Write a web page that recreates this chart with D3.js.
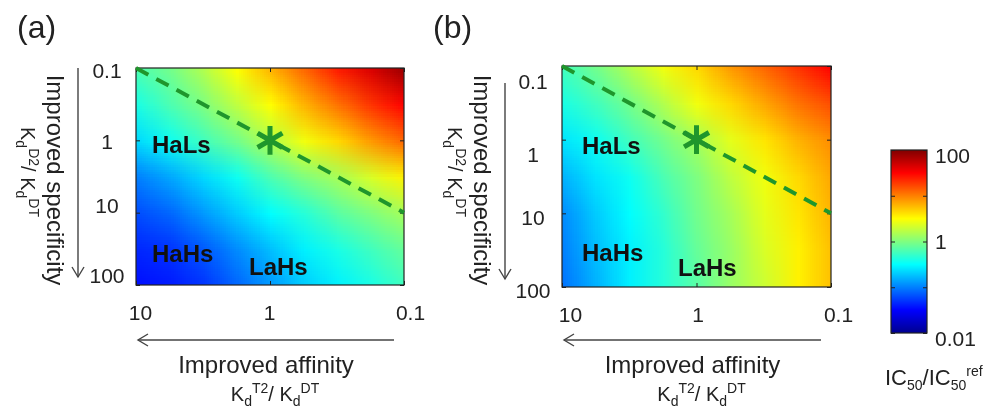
<!DOCTYPE html>
<html>
<head>
<meta charset="utf-8">
<script src="https://cdn.jsdelivr.net/npm/d3@7"></script>
<style>
body { margin: 0; background: #fff; }
#chart { position: relative; width: 1000px; height: 410px; overflow: hidden;
  font-family: "Liberation Sans", Arial, sans-serif; }
#chart svg { position: absolute; left: 0; top: 0; }
</style>
</head>
<body>
<div id="chart"></div>
<script>
// tick values of the two panel axes and of the colour bar
var xTicks = [10, 1, 0.1];
var yTicks = [0.1, 1, 10, 100];
var cbTicks = [100, 10, 1, 0.1, 0.01];
var cbLabels = [100, 1, 0.01];

// sample grid (log10 of Kd ratios) for the heat maps
var gridLogX = [1, 0.75, 0.5, 0.25, 0, -0.25, -0.5, -0.75, -1];
var gridLogY = [-1, -0.5, 0, 0.5, 1, 1.5, 2];

// log10(IC50/IC50ref), rows top (0.1) to bottom (100)
var logIC50a = [
  [-0.20, -0.05,  0.20,  0.50,  0.80,  1.10,  1.40,  1.65,  1.90],
  [-0.40, -0.20,  0.00,  0.25,  0.50,  0.80,  1.05,  1.30,  1.50],
  [-0.65, -0.45, -0.25, -0.05,  0.20,  0.45,  0.65,  0.90,  1.10],
  [-1.00, -0.85, -0.65, -0.45, -0.20,  0.00,  0.15,  0.35,  0.55],
  [-1.20, -1.10, -0.90, -0.70, -0.50, -0.35, -0.15,  0.00,  0.15],
  [-1.35, -1.30, -1.15, -0.95, -0.75, -0.55, -0.40, -0.25, -0.10],
  [-1.45, -1.40, -1.30, -1.10, -0.90, -0.70, -0.55, -0.40, -0.25]
];
// same for panel (b)
var logIC50b = [
  [-0.25, -0.05,  0.20,  0.45,  0.65,  0.90,  1.10,  1.30,  1.50],
  [-0.40, -0.25, -0.05,  0.20,  0.45,  0.65,  0.85,  1.05,  1.20],
  [-0.60, -0.45, -0.25, -0.05,  0.15,  0.40,  0.60,  0.80,  0.95],
  [-0.80, -0.60, -0.45, -0.20,  0.00,  0.25,  0.45,  0.65,  0.85],
  [-0.95, -0.70, -0.50, -0.30, -0.05,  0.15,  0.40,  0.60,  0.80],
  [-1.00, -0.75, -0.55, -0.35, -0.10,  0.10,  0.35,  0.55,  0.75],
  [-1.05, -0.80, -0.55, -0.35, -0.15,  0.10,  0.30,  0.55,  0.75]
];

// dashed line Kd^D2/Kd^DT = Kd^DT/Kd^T2 and the reference point
var diagLine = [{x: 10, y: 0.1}, {x: 1, y: 1}, {x: 0.1, y: 10}];
var refPoint = {x: 1, y: 1};

var regionLabels = ["HaLs", "HaHs", "LaHs"];

var panels = [
  {name: "(a)", values: logIC50a, left: 136, right: 404, top: 68, bottom: 285,
   tag: [17, 38], yShift: [2, 1, -8, -10], xShift: [4, -1, 6], titleX: 0,
   regions: [[16, 85], [16, 194], [113, 207]]},
  {name: "(b)", values: logIC50b, left: 562, right: 831, top: 66, bottom: 287,
   tag: [433, 38], yShift: [15, 14, 4, 3], xShift: [8, 1, 7], titleX: 427,
   regions: [[20, 88], [20, 195], [116, 210]]}
];

var green = "#1f962c", ink = "#222";

// MATLAB jet colour map on a log colour axis 0.01 .. 100
var jet = d3.scaleLinear()
  .domain([0, 0.125, 0.375, 0.625, 0.875, 1])
  .range(["#00008f", "#0000ff", "#00ffff", "#ffff00", "#ff0000", "#800000"])
  .clamp(true);
var cLog = d3.scaleLog().domain([0.01, 100]).range([0, 1]);
function colorOf(logv) { return jet(cLog(Math.pow(10, logv))); }

var chart = d3.select("#chart");

// heat maps: one canvas pixel per sample, scaled up by the browser
panels.forEach(function(p) {
  p.x = d3.scaleLog().domain([10, 0.1]).range([p.left, p.right]);
  p.y = d3.scaleLog().domain([0.1, 100]).range([p.top, p.bottom]);
  var nc = gridLogX.length, nr = gridLogY.length;
  var dx = p.x(Math.pow(10, gridLogX[1])) - p.x(Math.pow(10, gridLogX[0]));
  var dy = p.y(Math.pow(10, gridLogY[1])) - p.y(Math.pow(10, gridLogY[0]));
  var box = chart.append("div")
    .style("position", "absolute")
    .style("left", p.left + "px").style("top", p.top + "px")
    .style("width", (p.right - p.left) + "px").style("height", (p.bottom - p.top) + "px")
    .style("overflow", "hidden");
  var canvas = box.append("canvas")
    .attr("width", nc).attr("height", nr)
    .style("position", "absolute")
    .style("left", (-dx / 2) + "px").style("top", (-dy / 2) + "px")
    .style("width", (dx * nc) + "px").style("height", (dy * nr) + "px")
    .node();
  var ctx = canvas.getContext("2d");
  var image = ctx.createImageData(nc, nr);
  p.values.forEach(function(row, j) {
    row.forEach(function(v, i) {
      var c = d3.rgb(colorOf(v)), k = 4 * (j * nc + i);
      image.data[k] = c.r; image.data[k + 1] = c.g; image.data[k + 2] = c.b; image.data[k + 3] = 255;
    });
  });
  ctx.putImageData(image, 0, 0);
});

// colour bar
var cb = {left: 891, right: 927, top: 150, bottom: 333};
var cbScale = d3.scaleLog().domain([0.01, 100]).range([cb.bottom, cb.top]);
var cbH = cb.bottom - cb.top;
var cbCanvas = chart.append("canvas")
  .attr("width", 1).attr("height", cbH)
  .style("position", "absolute")
  .style("left", cb.left + "px").style("top", cb.top + "px")
  .style("width", (cb.right - cb.left) + "px").style("height", cbH + "px")
  .node();
var cbCtx = cbCanvas.getContext("2d");
var cbImg = cbCtx.createImageData(1, cbH);
d3.range(cbH).forEach(function(i) {
  var v = cbScale.invert(cb.top + i + 0.5);
  var c = d3.rgb(jet(cLog(v)));
  cbImg.data[4 * i] = c.r; cbImg.data[4 * i + 1] = c.g; cbImg.data[4 * i + 2] = c.b; cbImg.data[4 * i + 3] = 255;
});
cbCtx.putImageData(cbImg, 0, 0);

var svg = chart.append("svg").attr("width", 1000).attr("height", 410)
  .style("font-family", "'Liberation Sans', Arial, sans-serif");

function arrowHead(x, y, dir) {
  // open arrow head, dir "left" or "down"
  var a = 10, b = 6;
  var pts = dir === "left"
    ? [[x + a, y - b], [x, y], [x + a, y + b]]
    : [[x - b, y - a], [x, y], [x + b, y - a]];
  return d3.line()(pts);
}

panels.forEach(function(p) {
  var g = svg.append("g");
  var x = p.x, y = p.y;

  // left axis with labels
  var gl = g.append("g").attr("transform", "translate(" + p.left + ",0)")
    .call(d3.axisLeft(y).tickValues(yTicks).tickSize(-4).tickFormat(d3.format("~g")));
  gl.select(".domain").remove();
  gl.attr("font-size", 21).attr("font-family", null).style("color", ink);
  gl.selectAll("text").attr("x", -29).attr("text-anchor", "middle")
    .attr("dy", function(d, i) { return (p.yShift[i] + 7.5) + "px"; });

  var gr = g.append("g").attr("transform", "translate(" + p.right + ",0)")
    .call(d3.axisRight(y).tickValues(yTicks).tickSize(-4).tickFormat(""));
  gr.select(".domain").remove();
  gr.style("color", ink);

  var gt = g.append("g").attr("transform", "translate(0," + p.top + ")")
    .call(d3.axisTop(x).tickValues(xTicks).tickSize(-4).tickFormat(""));
  gt.select(".domain").remove();
  gt.style("color", ink);

  var gb = g.append("g").attr("transform", "translate(0," + p.bottom + ")")
    .call(d3.axisBottom(x).tickValues(xTicks).tickSize(-4).tickPadding(20).tickFormat(d3.format("~g")));
  gb.select(".domain").remove();
  gb.attr("font-size", 21).attr("font-family", null).style("color", ink);
  gb.selectAll("text").attr("x", function(d, i) { return p.xShift[i]; });

  // frame
  g.append("rect")
    .attr("x", p.left).attr("y", p.top)
    .attr("width", p.right - p.left).attr("height", p.bottom - p.top)
    .attr("fill", "none").attr("stroke", ink).attr("stroke-width", 1.2);

  // dashed line and reference point
  g.append("path")
    .datum(diagLine)
    .attr("d", d3.line().x(function(d) { return x(d.x); }).y(function(d) { return y(d.y); }))
    .attr("fill", "none").attr("stroke", green).attr("stroke-width", 4)
    .attr("stroke-dasharray", "14,9");
  g.append("path")
    .attr("transform", "translate(" + x(refPoint.x) + "," + y(refPoint.y) + ")")
    .attr("d", d3.symbol().type(d3.symbolAsterisk).size(580)())
    .attr("fill", "none").attr("stroke", green).attr("stroke-width", 5);

  // region labels
  g.selectAll(".region").data(regionLabels).enter().append("text")
    .attr("x", function(d, i) { return p.left + p.regions[i][0]; })
    .attr("y", function(d, i) { return p.top + p.regions[i][1]; })
    .attr("font-size", 24).attr("font-weight", "bold").attr("fill", "#111")
    .text(function(d) { return d; });

  // panel tag
  g.append("text").attr("x", p.tag[0]).attr("y", p.tag[1])
    .attr("font-size", 32).attr("fill", ink).text(p.name);

  // axis arrows
  var ax0 = p.right - 10, ax1 = p.left + 2, ay = 340;
  g.append("line").attr("x1", ax0).attr("y1", ay).attr("x2", ax1).attr("y2", ay)
    .attr("stroke", "#444").attr("stroke-width", 1.4);
  g.append("path").attr("d", arrowHead(ax1, ay, "left"))
    .attr("fill", "none").attr("stroke", "#444").attr("stroke-width", 1.4);
  var vx = 76 + p.titleX + 2, vy0 = p.name === "(a)" ? 68 : 83, vy1 = p.bottom - 8;
  g.append("line").attr("x1", vx).attr("y1", vy0).attr("x2", vx).attr("y2", vy1)
    .attr("stroke", "#444").attr("stroke-width", 1.4);
  g.append("path").attr("d", arrowHead(vx, vy1, "down"))
    .attr("fill", "none").attr("stroke", "#444").attr("stroke-width", 1.4);

  // x titles
  var cx = (p.left + p.right) / 2;
  g.append("text").attr("x", cx - 4).attr("y", 373).attr("text-anchor", "middle")
    .attr("font-size", 24).attr("fill", ink).text("Improved affinity");
  kdText(g.append("text").attr("x", cx + 5).attr("y", 401).attr("text-anchor", "middle"), "T2");

  // y titles (rotated, reading downwards)
  g.append("text").attr("transform", "translate(" + (47 + p.titleX) + ",180) rotate(90)")
    .attr("text-anchor", "middle").attr("font-size", 24).attr("fill", ink)
    .text("Improved specificity");
  kdText(g.append("text").attr("transform", "translate(" + (21 + p.titleX) + ",172) rotate(90)")
    .attr("text-anchor", "middle"), "D2");
});

// K_d^{sup}/ K_d^{DT}
function kdText(t, sup) {
  t.attr("font-size", 20).attr("fill", ink);
  t.append("tspan").text("K");
  t.append("tspan").attr("font-size", 14).attr("dy", 5).text("d");
  t.append("tspan").attr("font-size", 14).attr("dy", -13).text(sup);
  t.append("tspan").attr("dy", 8).text("/ K");
  t.append("tspan").attr("font-size", 14).attr("dy", 5).text("d");
  t.append("tspan").attr("font-size", 14).attr("dy", -13).text("DT");
}

// colour bar frame, ticks and labels
var gc = svg.append("g");
gc.append("rect").attr("x", cb.left).attr("y", cb.top)
  .attr("width", cb.right - cb.left).attr("height", cbH)
  .attr("fill", "none").attr("stroke", ink).attr("stroke-width", 1.2);
var gcr = gc.append("g").attr("transform", "translate(" + cb.right + ",0)")
  .call(d3.axisRight(cbScale).tickValues(cbTicks).tickSize(-4).tickFormat(""));
gcr.select(".domain").remove();
gcr.style("color", ink);
var gcl = gc.append("g").attr("transform", "translate(" + cb.left + ",0)")
  .call(d3.axisLeft(cbScale).tickValues(cbTicks).tickSize(-4).tickFormat(""));
gcl.select(".domain").remove();
gcl.style("color", ink);
var cbShift = [5, 0, 5];
gc.selectAll(".cblab").data(cbLabels).enter().append("text")
  .attr("x", cb.right + 8)
  .attr("y", function(d, i) { return cbScale(d) + cbShift[i] + 7.5; })
  .attr("font-size", 21).attr("fill", ink)
  .text(d3.format("~g"));

var ct = gc.append("text").attr("x", 885).attr("y", 385).attr("font-size", 22).attr("fill", ink);
ct.append("tspan").text("IC");
ct.append("tspan").attr("font-size", 14).attr("dy", 5).text("50");
ct.append("tspan").attr("dy", -5).text("/IC");
ct.append("tspan").attr("font-size", 14).attr("dy", 5).text("50");
ct.append("tspan").attr("font-size", 14).attr("dy", -14).text("ref");
</script>
</body>
</html>
